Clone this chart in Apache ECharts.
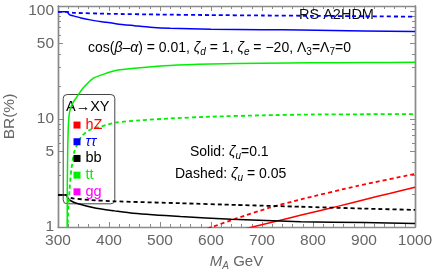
<!DOCTYPE html>
<html>
<head>
<meta charset="utf-8">
<script src="https://cdn.jsdelivr.net/npm/echarts@6/dist/echarts.min.js"></script>
<style>html,body{margin:0;padding:0;background:#fff}#c{width:436px;height:276px}</style>
</head>
<body>
<div id="c"></div>
<script>
// ---- data ----
const xTicks = [300, 400, 500, 600, 700, 800, 900, 1000];
const yLabelValues = [1, 5, 10, 50, 100];
const yMinorValues = [2, 3, 4, 6, 7, 8, 9, 20, 30, 40, 60, 70, 80, 90];

// tau tau, zeta_u = 0.1 (solid)
const tauSolidX = [300, 308, 314, 317, 318, 319, 320, 323, 330, 345, 363, 390, 416, 450, 481, 520, 600, 700, 776, 900, 1000];
const tauSolidY = [98, 98, 98, 98, 98, 96.5, 95, 92, 89.9, 86, 82.6, 79, 75.8, 73, 70.6, 69, 67.8, 67, 66.5, 65.2, 64.3];
// tau tau, zeta_u = 0.05 (dashed)
const tauDashX = [300, 308, 314, 318, 322, 330, 400, 500, 600, 700, 800, 900, 1000];
const tauDashY = [98, 98, 98, 98, 97, 96, 94, 92.5, 91.5, 90.7, 90, 89.2, 88.5];
// tt solid
const ttSolidX = [317.8, 318.3, 319, 320, 321.5, 324, 330, 337, 350, 369, 390, 415, 461, 520, 600, 700, 800, 900, 1000];
const ttSolidY = [0.5, 2.5, 5, 8, 10.5, 12.3, 14.3, 16, 19.5, 23.8, 26, 28.2, 29.8, 31.3, 32.2, 32.8, 33.1, 33.3, 33.4];
// tt dashed
const ttDashX = [318.3, 320, 322.7, 326, 332.7, 346, 362, 395, 415, 460, 520, 600, 700, 800, 900, 1000];
const ttDashY = [0.8, 1.44, 2.2, 3.37, 5.1, 6.9, 7.9, 8.8, 9.3, 9.7, 10.1, 10.5, 10.8, 11, 11.05, 11.1];
// bb solid
const bbSolidX = [300, 308, 314, 317, 318, 320, 325, 336, 375, 411, 447, 540, 640, 776, 900, 1000];
const bbSolidY = [1.98, 1.98, 1.98, 1.98, 1.92, 1.83, 1.75, 1.66, 1.49, 1.41, 1.34, 1.25, 1.18, 1.12, 1.1, 1.08];
// bb dashed
const bbDashX = [300, 308, 314, 317, 318, 322, 330, 362, 410, 540, 650, 776, 900, 1000];
const bbDashY = [1.98, 1.98, 1.98, 1.98, 1.93, 1.88, 1.84, 1.78, 1.73, 1.66, 1.6, 1.54, 1.48, 1.44];
// hZ solid
const hzSolidX = [660, 681, 750, 800, 850, 900, 950, 1000];
const hzSolidY = [0.95, 1.0, 1.2, 1.37, 1.56, 1.79, 2.04, 2.33];
// hZ dashed
const hzDashX = [580, 602, 650, 713, 776, 887, 1000];
const hzDashY = [0.92, 1.0, 1.2, 1.5, 1.8, 2.4, 3.1];

const legendNames = ['hZ', 'ττ', 'bb', 'tt', 'gg'];
const colors = { hZ: '#ff0000', 'ττ': '#0000ff', bb: '#000000', tt: '#00ee00', gg: '#ff00ff' };

function zip(xs, ys) { return xs.map((x, i) => [x, ys[i]]); }

const FONT = 'Liberation Sans, Arial, sans-serif';
const frame = '#8a8a8a';
const dash = [4, 3];

function line(name, xs, ys, dashed) {
  return {
    type: 'line', name, data: zip(xs, ys), showSymbol: false, symbol: 'none',
    smooth: 0.2, clip: true, xAxisIndex: 0, yAxisIndex: 0,
    itemStyle: { color: colors[name] },
    lineStyle: { color: colors[name], width: dashed ? 1.8 : 1.5, type: dashed ? dash : 'solid' },
    z: 8, animation: false
  };
}

const chart = echarts.init(document.getElementById('c'), null, { renderer: 'canvas' });

const baseX = {
  type: 'value', min: 300, max: 1000, interval: 100,
  axisLine: { show: true, lineStyle: { color: frame, width: 1.4 } },
  axisTick: { show: true, inside: true, length: 5, lineStyle: { color: frame } },
  minorTick: { show: true, splitNumber: 5, length: 3, lineStyle: { color: frame } },
  splitLine: { show: false }, minorSplitLine: { show: false }
};

const baseY = {
  type: 'log', logBase: 10, min: 1, max: 111,
  axisLine: { show: true, lineStyle: { color: frame, width: 1.4 } },
  splitLine: { show: false }
};

chart.setOption({
  animation: false,
  grid: { left: 58, right: 21, top: 6, bottom: 49, containLabel: false, outerBoundsMode: 'none' },
  xAxis: [
    Object.assign({}, baseX, {
      position: 'bottom',
      axisLabel: { color: '#666', fontSize: 15.5, fontFamily: FONT, margin: 6, formatter: v => String(v) },
      name: '{m|M}{s|A}{g| GeV}', nameLocation: 'middle', nameGap: 21,
      nameTextStyle: {
        color: '#666', fontFamily: FONT, fontSize: 15,
        rich: {
          m: { fontStyle: 'italic', fontSize: 15, color: '#666', fontFamily: FONT, lineHeight: 20 },
          s: { fontStyle: 'italic', fontSize: 10, color: '#666', fontFamily: FONT, lineHeight: 9, verticalAlign: 'bottom' },
          g: { fontSize: 15, color: '#666', fontFamily: FONT, lineHeight: 20 }
        }
      }
    }),
    Object.assign({}, baseX, { position: 'top', axisLabel: { show: false } })
  ],
  yAxis: [
    Object.assign({}, baseY, {
      position: 'left',
      axisTick: { show: true, inside: true, length: 5, customValues: yLabelValues, lineStyle: { color: frame } },
      axisLabel: { color: '#666', fontSize: 15.5, fontFamily: FONT, margin: 4, customValues: yLabelValues },
      name: 'BR(%)', nameLocation: 'middle', nameGap: 40,
      nameTextStyle: { color: '#666', fontSize: 15.5, fontFamily: FONT }
    }),
    Object.assign({}, baseY, {
      position: 'left',
      axisTick: { show: true, inside: true, length: 3, customValues: yMinorValues, lineStyle: { color: frame } },
      axisLabel: { show: false }
    }),
    Object.assign({}, baseY, {
      position: 'right',
      axisTick: { show: true, inside: true, length: 5, customValues: yLabelValues, lineStyle: { color: frame } },
      axisLabel: { show: false }
    }),
    Object.assign({}, baseY, {
      position: 'right',
      axisTick: { show: true, inside: true, length: 3, customValues: yMinorValues, lineStyle: { color: frame } },
      axisLabel: { show: false }
    })
  ],
  legend: {
    orient: 'vertical', left: 73.5, top: 116.7, padding: 0, itemGap: 0, z: 10,
    itemWidth: 7, itemHeight: 7, icon: 'rect', selectedMode: false,
    itemStyle: { borderWidth: 0 },
    textStyle: { fontSize: 14.5, fontFamily: FONT, lineHeight: 16.7 },
    data: legendNames.map(n => ({
      name: n,
      itemStyle: { color: colors[n], borderWidth: 0 },
      textStyle: { color: colors[n], fontStyle: n === 'ττ' ? 'italic' : 'normal' }
    }))
  },
  graphic: [
    { type: 'rect', left: 62.7, top: 94, shape: { width: 51.6, height: 109.3, r: 4 },
      style: { fill: 'rgba(0,0,0,0)', stroke: '#444', lineWidth: 1 }, z: 6 },
    { type: 'text', x: 66, y: 106.5, z: 6,
      style: { text: 'A→XY', font: '14.5px ' + FONT, fill: '#000', verticalAlign: 'middle' } },
    { type: 'text', x: 299, y: 15, z: 6,
      style: { text: 'RS A2HDM', font: '14.5px ' + FONT, fill: '#111', verticalAlign: 'middle' } },
    { type: 'text', x: 88, y: 48, z: 6,
      style: {
        text: '{n|cos(}{i|β}{n|–}{i|α}{n|) = 0.01, }{i|ζ}{s|d}{n| = 1, }{i|ζ}{s|e}{n| = −20, Λ}{t|3}{n|=Λ}{t|7}{n|=0}',
        verticalAlign: 'middle',
        rich: {
          n: { fontSize: 14, fontFamily: FONT, fill: '#000', lineHeight: 19 },
          i: { fontSize: 14, fontFamily: FONT, fill: '#000', fontStyle: 'italic', lineHeight: 19 },
          s: { fontSize: 10, fontFamily: FONT, fill: '#000', fontStyle: 'italic', lineHeight: 9, verticalAlign: 'bottom' },
          t: { fontSize: 10, fontFamily: FONT, fill: '#000', lineHeight: 9, verticalAlign: 'bottom' }
        }
      } },
    { type: 'text', x: 190, y: 152, z: 6,
      style: {
        text: '{n|Solid: }{i|ζ}{s|u}{n|=0.1}', verticalAlign: 'middle',
        rich: {
          n: { fontSize: 14, fontFamily: FONT, fill: '#000', lineHeight: 19 },
          i: { fontSize: 14, fontFamily: FONT, fill: '#000', fontStyle: 'italic', lineHeight: 19 },
          s: { fontSize: 10, fontFamily: FONT, fill: '#000', fontStyle: 'italic', lineHeight: 9, verticalAlign: 'bottom' }
        }
      } },
    { type: 'text', x: 175, y: 174, z: 6,
      style: {
        text: '{n|Dashed: }{i|ζ}{s|u}{n| = 0.05}', verticalAlign: 'middle',
        rich: {
          n: { fontSize: 14, fontFamily: FONT, fill: '#000', lineHeight: 19 },
          i: { fontSize: 14, fontFamily: FONT, fill: '#000', fontStyle: 'italic', lineHeight: 19 },
          s: { fontSize: 10, fontFamily: FONT, fill: '#000', fontStyle: 'italic', lineHeight: 9, verticalAlign: 'bottom' }
        }
      } }
  ],
  series: [
    line('hZ', hzSolidX, hzSolidY, false),
    line('hZ', hzDashX, hzDashY, true),
    line('ττ', tauSolidX, tauSolidY, false),
    line('ττ', tauDashX, tauDashY, true),
    line('bb', bbSolidX, bbSolidY, false),
    line('bb', bbDashX, bbDashY, true),
    line('tt', ttSolidX, ttSolidY, false),
    line('tt', ttDashX, ttDashY, true),
    { type: 'line', name: 'gg', data: [], itemStyle: { color: colors.gg }, lineStyle: { color: colors.gg } }
  ]
});
</script>
</body>
</html>
